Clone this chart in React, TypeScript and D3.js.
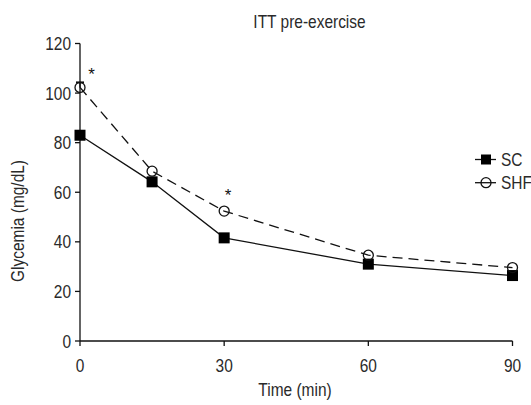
import React from "react";
import * as d3 from "d3";

const times = [0, 15, 30, 60, 90];
const scValues = [83, 64.2, 41.6, 31, 26.4];
const shfValues = [102.3, 68.5, 52.4, 34.6, 29.6];
const shfErrors = [2, 0, 0, 0, 0];
const xTicks = [0, 30, 60, 90];
const yTicks = [0, 20, 40, 60, 80, 100, 120];
const significantTimes = [0, 30];
const significantValues = [102.3, 52.4];
const legendItems = ["SC", "SHF"];

const W = 531;
const H = 405;
const FONT = "'Liberation Sans', Arial, sans-serif";
const FS = 18;
const SX = 0.86;

function T({
  x,
  y,
  anchor = "start",
  rotate = 0,
  children,
  size = FS,
}: {
  x: number;
  y: number;
  anchor?: string;
  rotate?: number;
  children: React.ReactNode;
  size?: number;
}) {
  return (
    <text
      transform={`translate(${x},${y}) rotate(${rotate}) scale(${SX},1)`}
      textAnchor={anchor}
      fontSize={size}
      fill="#2a2a2a"
    >
      {children}
    </text>
  );
}

export default function App() {
  const x = d3.scaleLinear().domain([0, 90]).range([80, 512.5]);
  const y = d3.scaleLinear().domain([0, 120]).range([341, 43.5]);
  const line = d3
    .line<number>()
    .x((_, i) => x(times[i]))
    .y((d) => y(d));
  const sq = 11;
  const r = 5;
  const asteriskOffsets = [
    [11.5, -7.3],
    [4, -9.7],
  ];
  return (
    <svg
      width={W}
      height={H}
      style={{ position: "absolute", left: 0, top: 0, background: "#fff" }}
      fontFamily={FONT}
    >
      <rect width={W} height={H} fill="#fff" />
      {/* title */}
      <T x={309.5} y={27.5} anchor="middle">
        ITT pre-exercise
      </T>
      {/* axes */}
      <line x1={x(0)} x2={x(0)} y1={y(120)} y2={y(0)} stroke="#111" strokeWidth={1.3} />
      <line x1={x(0)} x2={x(90)} y1={y(0)} y2={y(0)} stroke="#111" strokeWidth={1.3} />
      {yTicks.map((t) => (
        <g key={"y" + t}>
          <line x1={x(0) - 5} x2={x(0)} y1={y(t)} y2={y(t)} stroke="#111" strokeWidth={1.3} />
          <T x={x(0) - 9} y={y(t) + 6.5} anchor="end">
            {t}
          </T>
        </g>
      ))}
      {xTicks.map((t) => (
        <g key={"x" + t}>
          <line x1={x(t)} x2={x(t)} y1={y(0)} y2={y(0) + 5} stroke="#111" strokeWidth={1.3} />
          <T x={x(t)} y={372} anchor="middle">
            {t}
          </T>
        </g>
      ))}
      <T x={295} y={396} anchor="middle">
        Time (min)
      </T>
      <T x={24} y={221} anchor="middle" rotate={-90}>
        Glycemia (mg/dL)
      </T>
      {/* SHF dashed */}
      <path d={line(shfValues) || ""} fill="none" stroke="#111" strokeWidth={1.3} strokeDasharray="10,6" />
      {shfValues.map((v, i) =>
        shfErrors[i] > 0 ? (
          <g key={"e" + i}>
            <line x1={x(times[i])} x2={x(times[i])} y1={y(v)} y2={y(v + shfErrors[i])} stroke="#111" strokeWidth={1.3} />
            <line x1={x(times[i]) - 4} x2={x(times[i]) + 4} y1={y(v + shfErrors[i])} y2={y(v + shfErrors[i])} stroke="#111" strokeWidth={2} />
          </g>
        ) : null
      )}
      {/* SC solid */}
      <path d={line(scValues) || ""} fill="none" stroke="#111" strokeWidth={1.3} />
      {scValues.map((v, i) => (
        <rect key={"s" + i} x={x(times[i]) - sq / 2} y={y(v) - sq / 2} width={sq} height={sq} fill="#000" />
      ))}
      {shfValues.map((v, i) => (
        <circle key={"c" + i} cx={x(times[i])} cy={y(v)} r={r} fill="none" stroke="#111" strokeWidth={1.3} />
      ))}
      {significantTimes.map((t, i) => (
        <text
          key={"a" + i}
          x={x(t) + asteriskOffsets[i][0]}
          y={y(significantValues[i]) + asteriskOffsets[i][1]}
          textAnchor="middle"
          fontSize={17}
          fill="#111"
        >
          *
        </text>
      ))}
      {/* legend */}
      {legendItems.map((name, i) => {
        const ly = 159.5 + i * 23.2;
        return (
          <g key={name}>
            <line x1={475} x2={496} y1={ly} y2={ly} stroke="#111" strokeWidth={1.3} />
            {i === 0 ? (
              <rect x={486 - 5} y={ly - 5} width={10} height={10} fill="#000" />
            ) : (
              <circle cx={486} cy={ly} r={5} fill="none" stroke="#111" strokeWidth={1.3} />
            )}
            <T x={501} y={ly + 6.5}>
              {name}
            </T>
          </g>
        );
      })}
    </svg>
  );
}
